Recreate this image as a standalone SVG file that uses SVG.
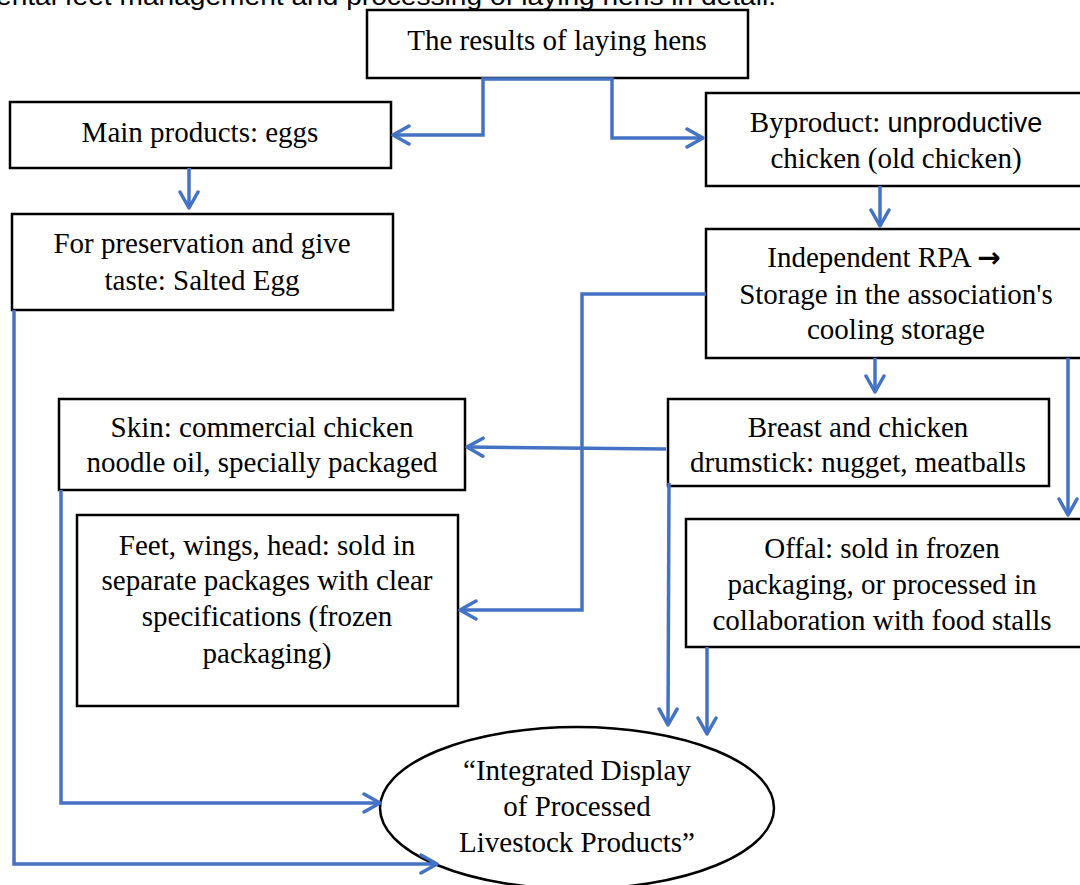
<svg xmlns="http://www.w3.org/2000/svg" width="1080" height="885" viewBox="0 0 1080 885">
<defs>
<style>
.box{fill:#fff;stroke:#000;stroke-width:2.5}
.t{font-family:"Liberation Serif","Times New Roman",serif;font-size:29px;fill:#000;text-anchor:middle}
.s{font-family:"Liberation Sans",Arial,sans-serif;font-size:27px}
.c{fill:none;stroke:#4472C4;stroke-width:3.5}
</style>
<marker id="ar" viewBox="0 0 20 22" refX="18" refY="11" markerWidth="20" markerHeight="22" markerUnits="userSpaceOnUse" orient="auto-start-reverse">
<path d="M2,2 L18,11 L2,20" fill="none" stroke="#4472C4" stroke-width="3.5" stroke-linecap="round" stroke-linejoin="round"/>
</marker>
</defs>
<rect width="1080" height="885" fill="#fff"/>
<text x="-4" y="5" font-family="Liberation Sans, Arial, sans-serif" font-size="26" fill="#000" textLength="780" lengthAdjust="spacingAndGlyphs">ental feet management and processing of laying hens in detail.</text>

<g id="n-results"><rect class="box" x="367" y="10" width="381" height="68"/><text class="t" x="557" y="50">The results of laying hens</text></g>
<g id="n-main"><rect class="box" x="10" y="102" width="381" height="66"/><text class="t" x="200" y="142">Main products: eggs</text></g>
<g id="n-byproduct"><rect class="box" x="706" y="93" width="380" height="93"/><text class="t" x="896" y="132">Byproduct: <tspan class="s">unproductive</tspan></text><text class="t" x="896" y="168">chicken (old chicken)</text></g>
<g id="n-salted"><rect class="box" x="12" y="214" width="381" height="96"/><text class="t" x="202" y="253">For preservation and give</text><text class="t" x="202" y="290">taste: Salted Egg</text></g>
<g id="n-rpa"><rect class="box" x="706" y="229" width="380" height="129"/><text class="t" x="884" y="267">Independent RPA <tspan font-family="DejaVu Sans, sans-serif" font-weight="bold" font-size="28">→</tspan></text><text class="t" x="896" y="304">Storage in the association's</text><text class="t" x="896" y="339">cooling storage</text></g>
<g id="n-skin"><rect class="box" x="59" y="399" width="406" height="91"/><text class="t" x="262" y="437">Skin: commercial chicken</text><text class="t" x="262" y="472">noodle oil, specially packaged</text></g>
<g id="n-breast"><rect class="box" x="668" y="399" width="381" height="87"/><text class="t" x="858" y="437">Breast and chicken</text><text class="t" x="858" y="472">drumstick: nugget, meatballs</text></g>
<g id="n-feet"><rect class="box" x="77" y="515" width="381" height="191"/><text class="t" x="267" y="555">Feet, wings, head: sold in</text><text class="t" x="267" y="590">separate packages with clear</text><text class="t" x="267" y="626">specifications (frozen</text><text class="t" x="267" y="663">packaging)</text></g>
<g id="n-offal"><rect class="box" x="686" y="519" width="400" height="128"/><text class="t" x="882" y="558">Offal: sold in frozen</text><text class="t" x="882" y="594">packaging, or processed in</text><text class="t" x="882" y="630">collaboration with food stalls</text></g>
<g id="n-display"><ellipse cx="577" cy="808" rx="197" ry="81" fill="#fff" stroke="#000" stroke-width="2.5"/><text class="t" x="577" y="780">“Integrated Display</text><text class="t" x="577" y="816">of Processed</text><text class="t" x="577" y="852">Livestock Products”</text></g>

<g id="connectors">
<path class="c" d="M393,135 H483 V79 H612 V138 H703" marker-start="url(#ar)" marker-end="url(#ar)"/>
<path class="c" d="M189,168 V208" marker-end="url(#ar)"/>
<path class="c" d="M880,186 V226" marker-end="url(#ar)"/>
<path class="c" d="M706,294 H582 V610 H460" marker-end="url(#ar)"/>
<path class="c" d="M875,358 V392" marker-end="url(#ar)"/>
<path class="c" d="M1068,358 V515" marker-end="url(#ar)"/>
<path class="c" d="M666,449 L467,447" marker-end="url(#ar)"/>
<path class="c" d="M669,483 L668,725" marker-end="url(#ar)"/>
<path class="c" d="M707,647 V734" marker-end="url(#ar)"/>
<path class="c" d="M61,490 V803 H380" marker-end="url(#ar)"/>
<path class="c" d="M14,310 V864 H437" marker-end="url(#ar)"/>
</g>
</svg>
